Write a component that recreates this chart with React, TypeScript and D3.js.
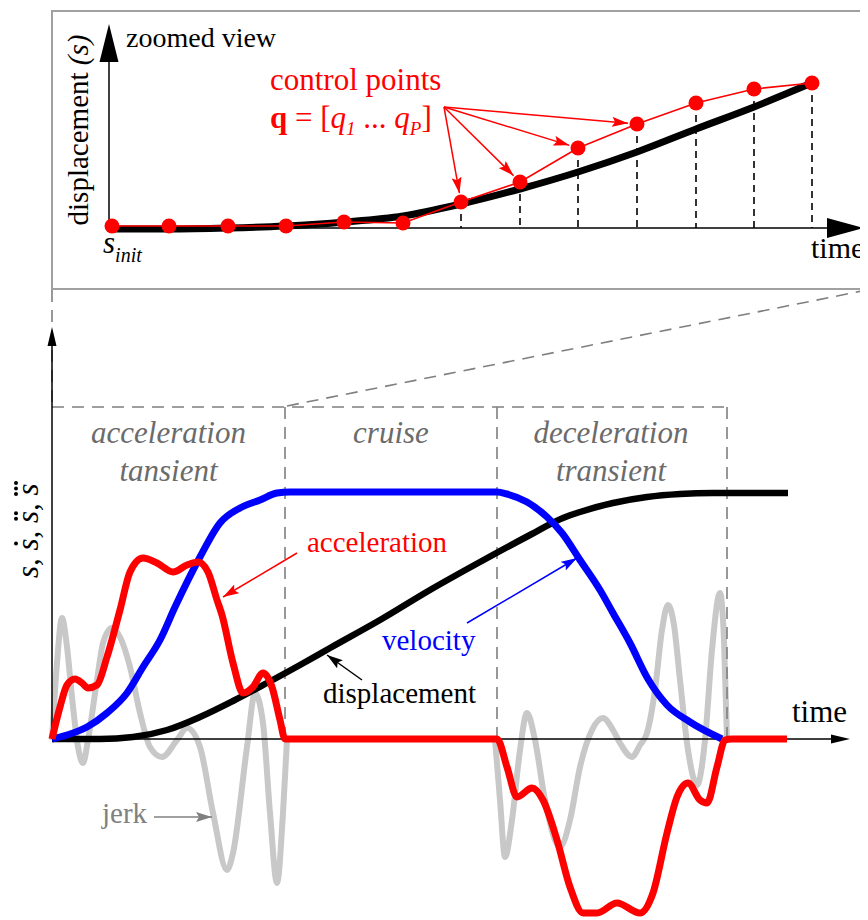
import React from "react";
import * as d3 from "d3";

// ---------- Top panel (zoomed view): time vs displacement ----------
const zoomCurveT = [0, 59, 119, 176, 236, 294, 352, 411, 469, 528, 587, 645, 698];
const zoomCurveS = [-1, -1, 0, 2, 6, 12, 24, 39, 56, 76, 99, 121, 143];
const controlT = [3, 60, 119, 177, 235, 294, 352, 411, 469, 528, 587, 645, 703];
const controlS = [2, 2, 2, 2, 6, 5, 26, 46, 80, 104, 125, 139, 145];
const pointedControls = [6, 7, 8, 9];
const droppedControls = [6, 7, 8, 9, 10, 11, 12];

// ---------- Bottom panel: motion profile ----------
const dispT = [0, 48, 81, 115, 148, 181, 215, 248, 278, 328, 378, 428, 478, 511, 528, 561, 595, 628, 661, 736];
const dispV = [0, 0, 2, 9, 22, 38, 56, 74, 91, 119, 149, 177, 204, 221, 227, 236, 242, 245, 246, 246];

const velT = [0, 15, 35, 55, 75, 91, 108, 123, 148, 168, 188, 208, 225, 238, 445, 455, 475, 495, 510, 528, 548, 561, 578, 596, 615, 638, 670];
const velV = [0, 4, 12, 26, 46, 72, 99, 132, 182, 216, 231, 239, 246, 247, 247, 245, 237, 222, 206, 179, 149, 126, 96, 60, 34, 17, 0];

const accT = [0, 8, 15, 23, 30, 36, 45, 55, 68, 78, 91, 105, 121, 135, 146, 156, 165, 170, 181, 191, 201, 211, 220, 228, 233, 240, 438, 445, 455, 465, 480, 491, 505, 518, 531, 545, 565, 588, 601, 615, 625, 636, 648, 655, 665, 673, 680, 735];
const accV = [0, 32, 54, 60, 56, 51, 54, 82, 129, 167, 181, 176, 167, 174, 177, 167, 139, 124, 76, 46, 52, 66, 52, 19, 0, 0, 0, 0, -28, -58, -49, -61, -101, -148, -174, -174, -164, -174, -154, -94, -58, -44, -61, -64, -28, -1, 0, 0];

const jerk1T = [0, 5, 10, 15, 20, 26, 31, 36, 45, 51, 60, 68, 78, 88, 98, 110, 125, 135, 148, 161, 175, 181, 195, 203, 211, 218, 225, 231, 235];
const jerk1V = [-1, 76, 121, 92, 42, -8, -24, -1, 59, 96, 111, 102, 72, 26, -8, -18, -1, 11, -8, -74, -131, -114, -8, 46, 16, -74, -144, -74, -1];
const jerk2T = [443, 448, 453, 460, 468, 475, 483, 493, 508, 518, 528, 540, 551, 561, 568, 580, 588, 595, 603, 610, 616, 622, 628, 636, 645, 653, 660, 668, 672, 675];
const jerk2V = [0, -61, -118, -81, -11, 26, -1, -61, -108, -81, -28, 9, 21, 9, -4, -18, -6, 6, 49, 109, 134, 114, 59, -11, -46, -1, 89, 146, 99, 0];

const phaseBounds = [0, 233, 445, 675];
const phaseTop = 332;
const phaseLabels = [
  ["acceleration", "tansient"],
  ["cruise"],
  ["deceleration", "transient"],
];

const FONT = "Times New Roman";

function zip(t: number[], v: number[]): [number, number][] {
  return t.map((d, i) => [d, v[i]]);
}

export default function App() {
  const xT = d3.scaleLinear().domain([0, 755]).range([109, 864]);
  const yT = d3.scaleLinear().domain([0, 204]).range([228, 24]);
  const xB = d3.scaleLinear().domain([0, 798]).range([52, 850]);
  const yB = d3.scaleLinear().domain([-200, 412]).range([939, 327]);

  const lineT = d3
    .line<[number, number]>()
    .x((d) => xT(d[0]))
    .y((d) => yT(d[1]))
    .curve(d3.curveMonotoneX);
  const polyT = d3
    .line<[number, number]>()
    .x((d) => xT(d[0]))
    .y((d) => yT(d[1]));
  const lineB = d3
    .line<[number, number]>()
    .x((d) => xB(d[0]))
    .y((d) => yB(d[1]))
    .curve(d3.curveMonotoneX);

  const ctrl = zip(controlT, controlS);
  const src: [number, number] = [444, 107];

  const arrowTip = (px: number, py: number, gap: number) => {
    const dx = src[0] - px;
    const dy = src[1] - py;
    const len = Math.hypot(dx, dy);
    return [px + (dx / len) * gap, py + (dy / len) * gap];
  };

  const phaseX = phaseBounds.map((b) => xB(b));
  const topY = yB(phaseTop);
  const fs = (size: number, extra: any = {}) => ({ fontFamily: FONT, fontSize: size, ...extra });

  return (
    <svg width={860} height={912} style={{ display: "block", overflow: "visible" }}>
      <defs>
        {[
          ["red", "#ff0000"],
          ["blue", "#0000ff"],
          ["black", "#000000"],
          ["gray", "#808080"],
        ].map(([id, c]) => (
          <marker
            key={id}
            id={"ah-" + id}
            viewBox="0 0 16 10"
            refX={16}
            refY={5}
            markerWidth={16}
            markerHeight={10}
            markerUnits="userSpaceOnUse"
            orient="auto"
          >
            <path d="M0,0 L16,5 L0,10 L3,5 z" fill={c} />
          </marker>
        ))}
      </defs>
      <g transform="translate(-8,-8)">
        {/* ================= TOP PANEL ================= */}
        <rect x={52} y={11} width={830} height={278} fill="none" stroke="#a0a0a0" strokeWidth={2} />

        {droppedControls.map((i) => (
          <line
            key={"dl" + i}
            x1={xT(controlT[i])}
            x2={xT(controlT[i])}
            y1={yT(controlS[i])}
            y2={yT(0)}
            stroke="#000"
            strokeWidth={1.6}
            strokeDasharray="7,5"
          />
        ))}

        <line x1={xT(0)} x2={830} y1={yT(0)} y2={yT(0)} stroke="#000" strokeWidth={1.5} />
        <line x1={xT(0)} x2={xT(0)} y1={yT(0)} y2={60} stroke="#000" strokeWidth={1.5} />
        <polygon points={`${xT(0)},24 ${xT(0) - 9.5},62 ${xT(0) + 9.5},62`} fill="#000" />
        <polygon points={`864,${yT(0)} 827,${yT(0) - 10} 827,${yT(0) + 10}`} fill="#000" />

        <path d={lineT(zip(zoomCurveT, zoomCurveS)) || ""} fill="none" stroke="#000" strokeWidth={7} />
        <path d={polyT(ctrl) || ""} fill="none" stroke="#ff0000" strokeWidth={1.6} />
        {ctrl.map((d, i) => (
          <circle key={"cp" + i} cx={xT(d[0])} cy={yT(d[1])} r={7.5} fill="#ff0000" />
        ))}

        {pointedControls.map((i) => {
          const px = xT(controlT[i]);
          const py = yT(controlS[i]);
          const [tx, ty] = arrowTip(px, py, 9);
          return (
            <line
              key={"ar" + i}
              x1={src[0]}
              y1={src[1]}
              x2={tx}
              y2={ty}
              stroke="#ff0000"
              strokeWidth={1.5}
              markerEnd="url(#ah-red)"
            />
          );
        })}

        <text x={126} y={47} fill="#000" style={fs(28)}>zoomed view</text>
        <text transform="translate(88,130) rotate(-90)" textAnchor="middle" fill="#000" style={fs(29)}>
          displacement <tspan style={{ fontStyle: "italic" }}>(s)</tspan>
        </text>
        <text x={270} y={90} fill="#ff0000" style={fs(31)}>control points</text>
        <text x={270} y={128} fill="#ff0000" style={fs(31, { whiteSpace: "pre" })}>
          <tspan style={{ fontWeight: "bold" }}>q</tspan>
          <tspan>{" = ["}</tspan>
          <tspan style={{ fontStyle: "italic" }}>q</tspan>
          <tspan style={{ fontStyle: "italic", fontSize: 19 }} dy={7}>1</tspan>
          <tspan dy={-7}>{" ... "}</tspan>
          <tspan style={{ fontStyle: "italic" }}>q</tspan>
          <tspan style={{ fontStyle: "italic", fontSize: 19 }} dy={7}>P</tspan>
          <tspan dy={-7}>]</tspan>
        </text>
        <text x={103} y={253} fill="#000" style={fs(31, { fontStyle: "italic" })}>
          s<tspan style={{ fontSize: 20 }} dy={9}>init</tspan>
        </text>
        <text x={811} y={258} fill="#000" style={fs(30)}>time</text>

        {/* ================= BOTTOM PANEL ================= */}
        <line x1={52} x2={52} y1={290} y2={topY} stroke="#7f7f7f" strokeWidth={1.6} strokeDasharray="12,8" />
        <line x1={phaseX[1] + 2} y1={topY - 1} x2={867} y2={290} stroke="#7f7f7f" strokeWidth={1.6} strokeDasharray="12,8" />

        <path d={lineB(zip(jerk1T, jerk1V)) || ""} fill="none" stroke="#c8c8c8" strokeWidth={6} />
        <path d={lineB(zip(jerk2T, jerk2V)) || ""} fill="none" stroke="#c8c8c8" strokeWidth={6} />

        <line x1={phaseX[0]} x2={phaseX[3]} y1={topY} y2={topY} stroke="#7f7f7f" strokeWidth={1.6} strokeDasharray="12,8" />
        {phaseX.slice(1).map((x, i) => (
          <line key={"pb" + i} x1={x} x2={x} y1={topY} y2={yB(0)} stroke="#7f7f7f" strokeWidth={1.6} strokeDasharray="12,8" />
        ))}
        {phaseLabels.map((lines, i) => {
          const cx = (phaseX[i] + phaseX[i + 1]) / 2 + (i === 2 ? -1 : 0);
          return lines.map((s, j) => (
            <text
              key={"pl" + i + j}
              x={cx}
              y={443 + j * 38}
              textAnchor="middle"
              fill="#6b6b6b"
              style={fs(31, { fontStyle: "italic" })}
            >
              {s}
            </text>
          ));
        })}

        <line x1={xB(0)} x2={834} y1={yB(0)} y2={yB(0)} stroke="#000" strokeWidth={1.5} />
        <polygon points={`850,${yB(0)} 831,${yB(0) - 4.5} 831,${yB(0) + 4.5}`} fill="#000" />
        <line x1={xB(0)} x2={xB(0)} y1={yB(0)} y2={342} stroke="#000" strokeWidth={1.5} />
        <polygon points={`${xB(0)},327 ${xB(0) - 4.5},346 ${xB(0) + 4.5},346`} fill="#000" />

        <path d={lineB(zip(dispT, dispV)) || ""} fill="none" stroke="#000" strokeWidth={6.5} />
        <path d={lineB(zip(velT, velV)) || ""} fill="none" stroke="#0000ff" strokeWidth={7} />
        <path d={lineB(zip(accT, accV)) || ""} fill="none" stroke="#ff0000" strokeWidth={7} />

        <g transform="translate(38,0) rotate(-90)">
          {[0, 1, 2, 3].map((i) => {
            const x0 = -578 + i * 27.5;
            return (
              <g key={"yl" + i}>
                <text x={x0} y={0} fill="#000" style={fs(31, { fontStyle: "italic" })}>
                  {i < 3 ? "s," : "s"}
                </text>
                {d3.range(i).map((k) => (
                  <circle key={k} cx={x0 + 7 + (k - (i - 1) / 2) * 5.5} cy={-22} r={2} fill="#000" />
                ))}
              </g>
            );
          })}
        </g>

        <text x={307} y={552} fill="#ff0000" style={fs(29)}>acceleration</text>
        <line x1={297} y1={553} x2={223} y2={597} stroke="#ff0000" strokeWidth={1.5} markerEnd="url(#ah-red)" />
        <text x={382} y={650} fill="#0000ff" style={fs(29)}>velocity</text>
        <line x1={467} y1={623} x2={577} y2={558} stroke="#0000ff" strokeWidth={1.5} markerEnd="url(#ah-blue)" />
        <text x={323} y={703} fill="#000" style={fs(29)}>displacement</text>
        <line x1={362} y1={680} x2={327} y2={655} stroke="#000" strokeWidth={1.5} markerEnd="url(#ah-black)" />
        <text x={102} y={823} fill="#808080" style={fs(29)}>jerk</text>
        <line x1={154} y1={817} x2={212} y2={817} stroke="#808080" strokeWidth={1.5} markerEnd="url(#ah-gray)" />
        <text x={792} y={722} fill="#000" style={fs(31)}>time</text>
      </g>
    </svg>
  );
}
